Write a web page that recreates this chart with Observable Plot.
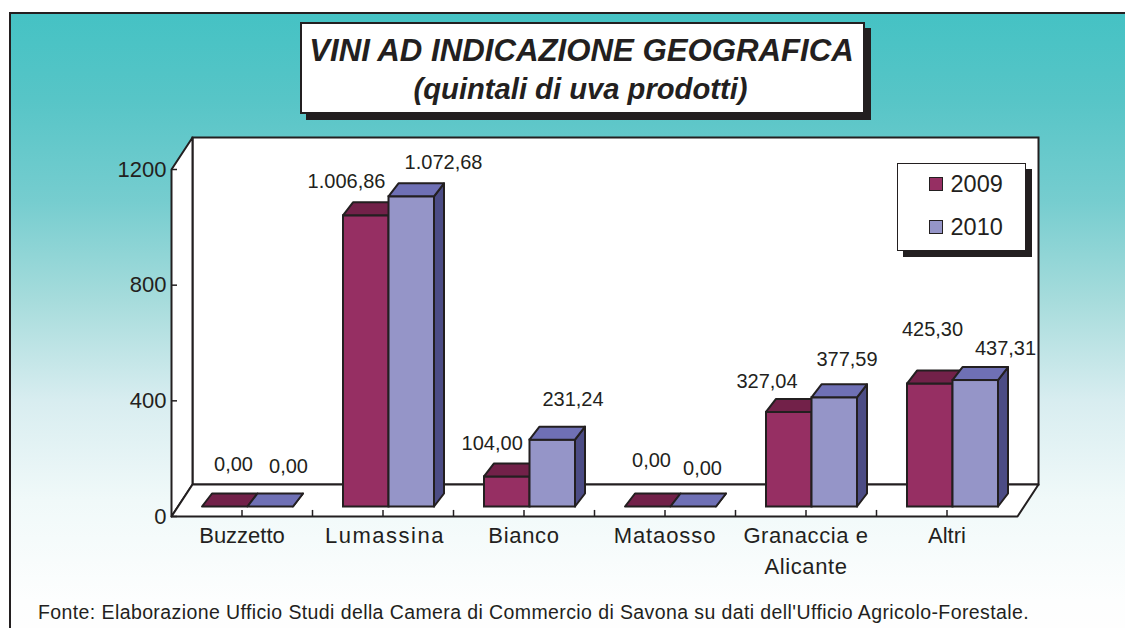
<!DOCTYPE html>
<html>
<head>
<meta charset="utf-8">
<script src="https://cdn.jsdelivr.net/npm/d3@7"></script>
<script src="https://cdn.jsdelivr.net/npm/@observablehq/plot@0.6"></script>
<style>
  html, body { margin: 0; padding: 0; background: #fff; }
  body { position: relative; width: 1125px; height: 628px; overflow: hidden; font-family: "Liberation Sans", Arial, sans-serif; color: #231f20; }
  #panel { position: absolute; left: 9px; top: 12px; right: 0; bottom: 0; border-left: 2.5px solid #231f20; border-top: 2.5px solid #231f20; background: linear-gradient(#45c2c4 0%, #57c5c7 14%, #76cdcf 30.5%, #a7dcdc 46.8%, #d8edf0 63%, #f0f9f9 79%, #fdfefe 95.5%, #fefefe 100%); }
  #chart { position: absolute; left: 0; top: 0; }
  #title { position: absolute; left: 300px; top: 22px; width: 561px; height: 88px; background: #fff; border: 2px solid #231f20; box-shadow: 6px 6px 0 #231f20; text-align: center; font-weight: bold; font-style: italic; }
  #title div { position: absolute; right: 0; white-space: nowrap; }
  #t1 { left: -1px; right: 1px !important; top: 7px; font-size: 31.2px; line-height: 40px; }
  #t2 { left: -2px; right: 2px !important; top: 46px; font-size: 29.2px; line-height: 38px; }
  #legend { position: absolute; left: 897px; top: 163px; width: 127px; height: 86px; background: #fff; border: 1.5px solid #231f20; box-shadow: 6px 6px 0 #231f20; }
  .entry { position: absolute; left: 30.5px; display: flex; align-items: center; font-size: 23.5px; line-height: 26px; }
  .entry i { display: block; width: 12px; height: 12px; border: 1.5px solid #231f20; margin-right: 8px; }
  #caption { position: absolute; left: 38px; top: 601px; font-size: 19.5px; letter-spacing: 0.4px; line-height: 22px; white-space: nowrap; }
</style>
</head>
<body>
<div id="panel"></div>
<div id="chart"></div>
<div id="title"><div id="t1">VINI AD INDICAZIONE GEOGRAFICA</div><div id="t2">(quintali di uva prodotti)</div></div>
<div id="legend"></div>
<div id="caption">Fonte: Elaborazione Ufficio Studi della Camera di Commercio di Savona su dati dell'Ufficio Agricolo-Forestale.</div>
<script>
const categories = ["Buzzetto", "Lumassina", "Bianco", "Mataosso", "Granaccia e\nAlicante", "Altri"];
const values2009 = [0, 1006.86, 104.00, 0, 327.04, 425.30];
const values2010 = [0, 1072.68, 231.24, 0, 377.59, 437.31];
const yTicks = [0, 400, 800, 1200];
const years = ["2009", "2010"];

// label nudges relative to each bar's category centre and value
const nudge2009 = [[-8.5, -52], [-36.5, -44], [-31.8, -42.6], [-13.5, -56], [-39, -40], [-14.5, -64]];
const nudge2010 = [[46.5, -50], [60.5, -44], [49, -50], [37.5, -48], [41, -48], [58.5, -41.5]];
// the reference's uneven letter spacing on the category labels
const tickSpacing = [0, 1.5, 0.7, 0.9, 0.6, 0];
const tickShift = [0, 2, 0, 0, 0, 0];

const INK = "#231f20";
const colors2009 = {front: "#962f63", top: "#722149"};
const colors2010 = {front: "#9595c8", top: "#6f70b5", side: "#4c4c85"};
const wallDepth = [21, -32], barDepth = [10, -13], barLift = -9.5, barWidth = 45.5;

const fmt = d3.formatLocale({decimal: ",", thousands: ".", grouping: [3], currency: ["", ""]}).format(",.2f");
const rows2009 = categories.map((category, i) => ({category, value: values2009[i], nudge: nudge2009[i]}));
const rows2010 = categories.map((category, i) => ({category, value: values2010[i], nudge: nudge2010[i]}));

function poly(points, fill) {
  const p = document.createElementNS("http://www.w3.org/2000/svg", "polygon");
  p.setAttribute("points", points.map(q => q.join(",")).join(" "));
  p.setAttribute("fill", fill);
  p.setAttribute("stroke", INK);
  p.setAttribute("stroke-width", 2);
  p.setAttribute("stroke-linejoin", "round");
  return p;
}

function prism(rows, colors, insetLeft) {
  const insetRight = 141 - insetLeft - barWidth;
  return Plot.barY(rows, {
    x: "category", y: "value", fill: colors.front, stroke: INK, strokeWidth: 2,
    insetLeft, insetRight, dy: barLift,
    render(index, scales, values, dimensions, context, next) {
      const g = next(index, scales, values, dimensions, context);
      const [dx, dy] = barDepth;
      // the mark's group already carries the dy lift, so only the scales are used here
      for (const d of rows) {
        const x0 = scales.x(d.category) + insetLeft, x1 = x0 + barWidth;
        const yt = scales.y(d.value), yb = scales.y(0);
        if (colors.side) g.appendChild(poly([[x1, yt], [x1 + dx, yt + dy], [x1 + dx, yb + dy], [x1, yb]], colors.side));
        g.appendChild(poly([[x0, yt], [x0 + dx, yt + dy], [x1 + dx, yt + dy], [x1, yt]], colors.top));
      }
      return g;
    }
  });
}

const walls = (index, {x, y}, values, {width, marginLeft, marginRight}) => {
  const g = document.createElementNS("http://www.w3.org/2000/svg", "g");
  const [dx, dy] = wallDepth;
  const l = marginLeft + 0.5, r = width - marginRight + 0.5, y0 = y(0) + 0.5, y1 = y(1200) + 0.5;
  g.appendChild(poly([[l, y0], [l, y1], [l + dx, y1 + dy], [l + dx, y0 + dy]], "#fff"));
  g.appendChild(poly([[l, y0], [l + dx, y0 + dy], [r + dx, y0 + dy], [r, y0]], "#fff"));
  return g;
};

const labels = rows => rows.map(d => Plot.text([d], {
  x: "category", y: "value", text: r => fmt(r.value), dx: d.nudge[0], dy: d.nudge[1],
  fontSize: 20, fill: INK
}));

const chart = Plot.plot({
  width: 1125, height: 628,
  marginLeft: 171, marginRight: 108, marginTop: 169, marginBottom: 112,
  style: {background: "transparent", fontFamily: "Liberation Sans, Arial, sans-serif", color: INK},
  x: {domain: categories, padding: 0, round: false, label: null},
  y: {domain: [0, 1200], label: null},
  marks: [
    Plot.frame({dx: wallDepth[0], dy: wallDepth[1], fill: "#fff", stroke: INK, strokeWidth: 2}),
    walls,
    Plot.ruleX(categories.slice(0, -1), {x: d => d, y1: 0, y2: 21, dx: 70.5, stroke: INK, strokeWidth: 1.5}),
    Plot.axisX({tickSize: -6, tickPadding: 10, fontSize: 22, lineHeight: 1.42, stroke: INK, strokeWidth: 1.5, fill: INK, label: null}),
    Plot.axisY({ticks: yTicks, tickSize: -6, tickPadding: 11, fontSize: 22, stroke: INK, strokeWidth: 1.5, fill: INK, label: null, tickFormat: d => String(d)}),
    prism(rows2009, colors2009, 31),
    prism(rows2010, colors2010, 76.5),
    ...labels(rows2009),
    ...labels(rows2010)
  ]
});
document.getElementById("chart").appendChild(chart);

// per-label letter spacing and small shift on the category tick text
d3.select(chart).selectAll("text").each(function () {
  const i = categories.findIndex(c => c.replace("\n", "") === this.textContent);
  if (i >= 0 && tickSpacing[i]) this.setAttribute("letter-spacing", tickSpacing[i]);
  if (i >= 0 && tickShift[i]) this.setAttribute("dx", tickShift[i]);
});

const legend = document.getElementById("legend");
years.forEach((year, i) => {
  const e = document.createElement("div");
  e.className = "entry";
  e.style.top = (7 + i * 43) + "px";
  const sw = document.createElement("i");
  sw.style.background = [colors2009, colors2010][i].front;
  e.appendChild(sw);
  e.appendChild(document.createTextNode(year));
  legend.appendChild(e);
});
</script>
</body>
</html>
